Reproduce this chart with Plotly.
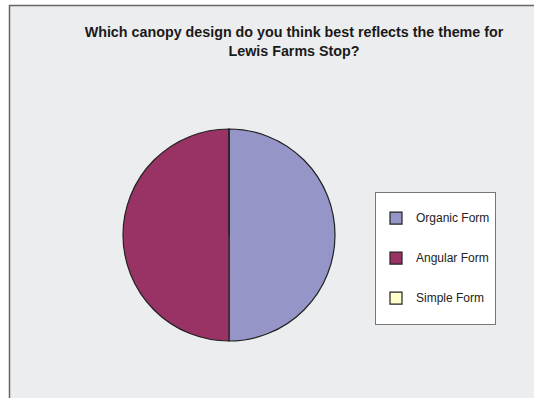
import plotly.graph_objects as go

labels = ["Organic Form", "Angular Form", "Simple Form"]
values = [1, 1, 0]
colors = ["#9595c8", "#993366", "#ffffcc"]
title_text = "Which canopy design do you think best reflects the theme for<br>Lewis Farms Stop?"

W, H = 534, 398

legend_labels = ["<br><span style='font-size:12px'>" + l + "</span><br> " for l in labels]

fig = go.Figure()
fig.add_trace(go.Pie(
    labels=legend_labels,
    values=values,
    sort=False,
    direction="clockwise",
    rotation=0,
    textinfo="none",
    hovertext=labels,
    hoverinfo="text+value",
    marker=dict(colors=colors, line=dict(color="#222222", width=1.2)),
    domain=dict(x=[123 / W, 335 / W], y=[1 - 341 / H, 1 - 129 / H]),
))

fig.update_layout(
    width=W, height=H,
    margin=dict(l=0, r=0, t=0, b=0),
    paper_bgcolor="white",
    plot_bgcolor="white",
    title=dict(
        text="<b>" + title_text + "</b>",
        x=294 / W, xanchor="center",
        y=1 - 37 / H, yanchor="top",
        font=dict(family="Liberation Sans", size=14.3, color="#1a1a1a"),
    ),
    legend=dict(
        x=375 / W, xanchor="left",
        y=1 - 192 / H, yanchor="top",
        bgcolor="white",
        bordercolor="#777777",
        borderwidth=1,
        font=dict(family="Liberation Sans", size=9.5, color="#222222"),
        valign="middle",
    ),
    shapes=[dict(
        type="rect", xref="paper", yref="paper",
        x0=9.5 / W, x1=1.05, y0=-0.05, y1=1 - 5.5 / H,
        line=dict(color="#666666", width=1.5),
        fillcolor="#ecedef", layer="below",
    )],
)

fig.write_html("out.html", config={"displayModeBar": False},
               post_script="document.body.style.margin='0px';")
